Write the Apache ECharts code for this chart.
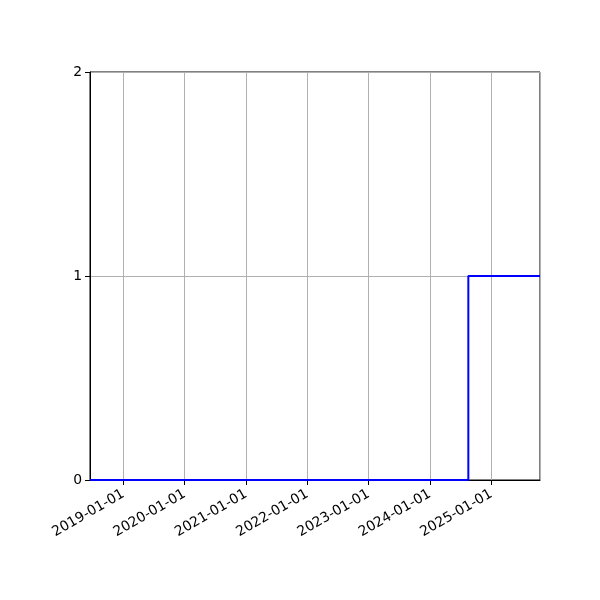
<!DOCTYPE html>
<html><head><meta charset="utf-8">
<script src="https://cdn.jsdelivr.net/npm/echarts@6/dist/echarts.min.js"></script>
<style>html,body{margin:0;padding:0;background:#fff}#c{width:600px;height:600px}</style>
</head><body><div id="c"></div>
<script>
const dates = ['2018-06-16', '2024-08-17', '2025-10-18'];
const values = [0, 1, 1];
const xRange = ['2018-06-16', '2025-10-18'];
const yTicks = [0, 1, 2];

function ts(s){const p=s.split('-').map(Number);return new Date(p[0],p[1]-1,p[2]).getTime();}
const chart = echarts.init(document.getElementById('c'), null, {renderer:'canvas'});
const font = 'DejaVu Sans';
chart.setOption({
  animation:false,
  backgroundColor:'#fff',
  grid:{left:90,right:60,top:72,bottom:120,show:true,borderColor:'#000',borderWidth:1,backgroundColor:'transparent'},
  xAxis:{
    type:'time', min:ts(xRange[0]), max:ts(xRange[1]),
    minInterval:365*86400000, maxInterval:366*86400000,
    axisLine:{lineStyle:{color:'#000',width:1}},
    axisTick:{show:true,length:5,lineStyle:{color:'#000'}},
    splitLine:{show:true,lineStyle:{color:'#b0b0b0',width:1}},
    axisLabel:{color:'#000',fontFamily:font,fontSize:13.9,rotate:30,margin:13,
      formatter:'{yyyy}-{MM}-{dd}',showMinLabel:false,showMaxLabel:false,hideOverlap:false}
  },
  yAxis:{
    type:'value', min:yTicks[0], max:yTicks[yTicks.length-1], interval:1,
    axisLine:{show:true,lineStyle:{color:'#000',width:1}},
    axisTick:{show:true,length:5,lineStyle:{color:'#000'}},
    splitLine:{show:true,lineStyle:{color:'#b0b0b0',width:1}},
    axisLabel:{color:'#000',fontFamily:font,fontSize:13.9,margin:8}
  },
  series:[{
    type:'line', step:'end', symbol:'none',
    data:dates.map((d,i)=>[ts(d),values[i]]),
    lineStyle:{color:'#0000ff',width:2}
  }]
});
</script></body></html>
